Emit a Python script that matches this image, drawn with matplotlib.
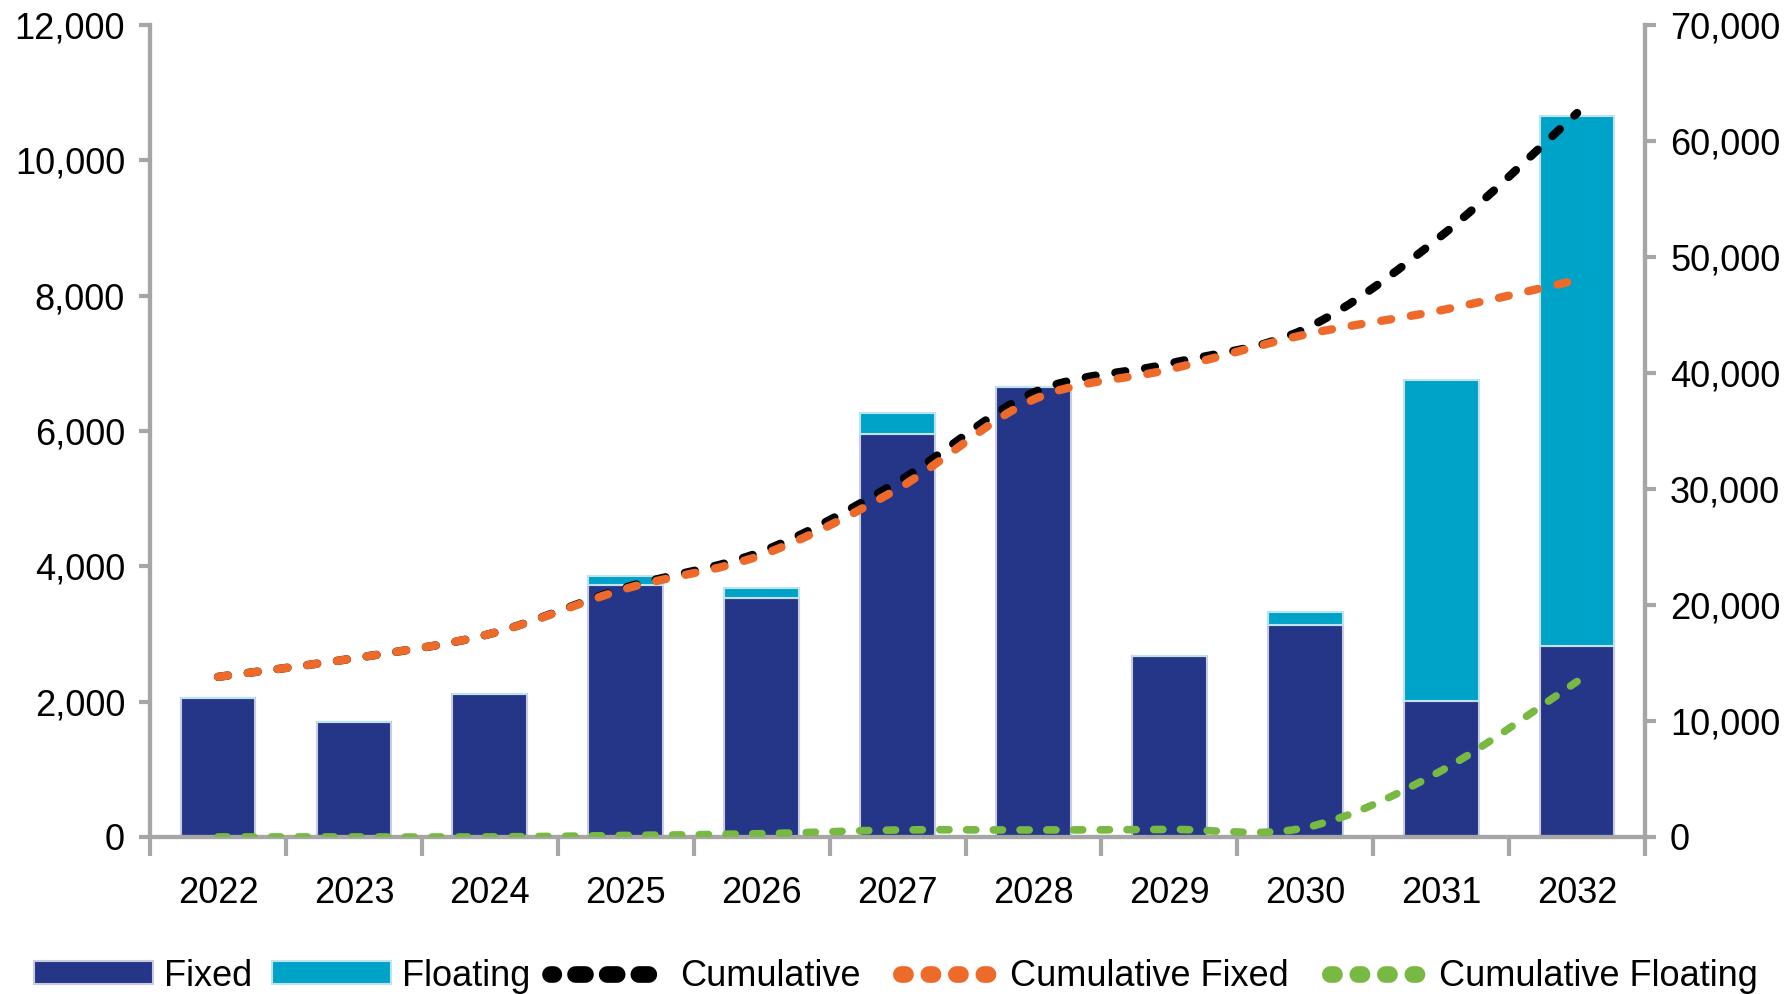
import matplotlib
matplotlib.use('Agg')
import matplotlib.pyplot as plt
import numpy as np
from matplotlib.ticker import FuncFormatter, MultipleLocator
from matplotlib.path import Path
from matplotlib.patches import PathPatch
from matplotlib.lines import Line2D

years = ['2022', '2023', '2024', '2025', '2026', '2027', '2028', '2029', '2030', '2031', '2032']
fixed = [2050, 1700, 2110, 3720, 3530, 5950, 6650, 2670, 3130, 2010, 2820]
floating = [0, 0, 0, 130, 150, 320, 0, 0, 200, 4740, 7830]
cumulative = [13800, 15400, 17500, 21500, 24600, 30600, 38300, 40800, 43800, 51800, 62400]
cumulative_fixed = [13800, 15400, 17500, 21400, 24300, 30000, 37700, 40300, 43300, 45400, 48000]
cumulative_floating = [0, 0, 0, 130, 280, 600, 600, 650, 800, 5700, 13400]

plt.rcParams['font.family'] = ['Liberation Sans', 'DejaVu Sans']
fs = 26

navy = '#253688'
cyan = '#00A3C8'
orange = '#EE6A2A'
green = '#78B943'
axc = '#A6A6A6'


def smooth(ax, xs, ys, **kw):
    # Excel-style smoothed line (bezier through the points)
    pts = np.column_stack([xs, ys]).astype(float)
    n = len(pts)
    verts = [pts[0]]
    codes = [Path.MOVETO]
    for i in range(n - 1):
        p0 = pts[i - 1] if i > 0 else pts[i]
        p1 = pts[i]
        p2 = pts[i + 1]
        p3 = pts[i + 2] if i + 2 < n else pts[i + 1]
        verts += [p1 + (p2 - p0) / 6, p2 - (p3 - p1) / 6, p2]
        codes += [Path.CURVE4] * 3
    patch = PathPatch(Path(verts, codes), fill=False, **kw)
    ax.add_patch(patch)


fig = plt.figure(figsize=(17.91, 9.94), dpi=100)
ax = fig.add_axes([0.0838, 0.158, 0.8347, 0.817])
ax2 = ax.twinx()

x = np.arange(len(years))
w = 0.55
ax.bar(x, fixed, w, color=navy, edgecolor='#C9CCE0', linewidth=1.5, zorder=2)
ax.bar(x, floating, w, bottom=fixed, color=cyan, edgecolor='#BFE3EE', linewidth=1.5, zorder=2)

dash = (0, (1.2, 2.4))
smooth(ax2, x, cumulative, edgecolor='black', lw=6, ls=dash, capstyle='round', zorder=3)
smooth(ax2, x, cumulative_fixed, edgecolor=orange, lw=6, ls=dash, capstyle='round', zorder=4)
smooth(ax2, x, cumulative_floating, edgecolor=green, lw=5.5, ls=(0, (1.2, 2.3)), capstyle='round', zorder=4)

ax.set_ylim(0, 12000)
ax2.set_ylim(0, 70000)
ax.set_xlim(-0.5, len(years) - 0.5)
ax.yaxis.set_major_locator(MultipleLocator(2000))
ax2.yaxis.set_major_locator(MultipleLocator(10000))
fmt = FuncFormatter(lambda v, p: f'{int(v):,}')
ax.yaxis.set_major_formatter(fmt)
ax2.yaxis.set_major_formatter(fmt)

ax.set_xticks(x)
ax.set_xticklabels(years)
ax.set_xticks(np.arange(-0.5, len(years), 1), minor=True)
ax.tick_params(axis='x', which='major', length=0, pad=28, labelsize=fs)
ax.tick_params(axis='x', which='minor', length=14, width=3, color=axc)
ax.tick_params(axis='y', length=8, width=3, color=axc, labelsize=fs, pad=10)
ax2.tick_params(axis='y', length=8, width=3, color=axc, labelsize=fs, pad=10)

for a in (ax, ax2):
    a.spines['top'].set_visible(False)
    for s in ('left', 'right', 'bottom'):
        a.spines[s].set_color(axc)
        a.spines[s].set_linewidth(3)

handles = [
    plt.Rectangle((0, 0), 1, 1, facecolor=navy, edgecolor='#C9CCE0', lw=1.5),
    plt.Rectangle((0, 0), 1, 1, facecolor=cyan, edgecolor='#BFE3EE', lw=1.5),
    Line2D([], [], color='black', lw=12, ls=(0.4, (0.6, 1.3)), dash_capstyle='round'),
    Line2D([], [], color=orange, lw=12, ls=(0.4, (0.25, 1.4)), dash_capstyle='round'),
    Line2D([], [], color=green, lw=12, ls=(0.4, (0.25, 1.4)), dash_capstyle='round'),
]
labels = ['Fixed', 'Floating', 'Cumulative', 'Cumulative Fixed', 'Cumulative Floating']
fig.legend(handles, labels, loc='center', bbox_to_anchor=(0.5, 0.018), ncol=5,
           frameon=False, fontsize=fs, handlelength=3.3, handletextpad=0.3, columnspacing=0.55,
           handleheight=0.6)

fig.savefig('out.png', dpi=100)
